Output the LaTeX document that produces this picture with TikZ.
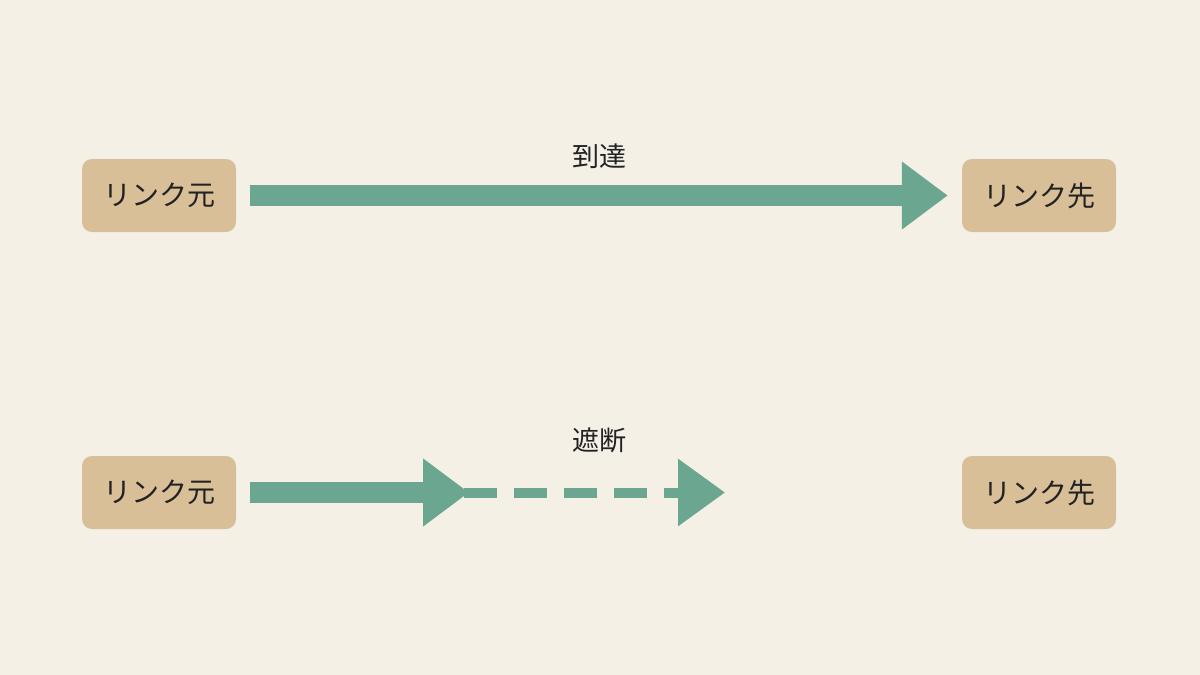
\documentclass[tikz,border=0pt]{standalone}
\usepackage{fontspec}
\setmainfont{Noto Sans CJK JP}
\usetikzlibrary{arrows.meta}
\definecolor{bg}{HTML}{F4F0E6}
\definecolor{boxfill}{HTML}{D8BF98}
\definecolor{arr}{HTML}{6BA690}
\definecolor{ink}{HTML}{222222}
\tikzset{
  linkbox/.style={fill=boxfill, rounded corners=10pt, minimum width=154pt, minimum height=73pt, inner sep=0pt, text=ink, font=\fontsize{28}{30}\selectfont},
  lbl/.style={text=ink, font=\fontsize{27}{29}\selectfont, inner sep=0pt},
  bigarrow/.style={draw=arr, line width=21pt, -{Triangle[length=46pt, width=65pt]}},
  dasharrow/.style={draw=arr, line width=10pt, dash pattern=on 33pt off 17pt, -{Triangle[length=47pt, width=65pt]}},
}
\begin{document}
\begin{tikzpicture}[x=1pt, y=-1pt]
\fill[bg] (0,0) rectangle (1200,675);
\useasboundingbox (0,0) rectangle (1200,675);
% top row
\node[linkbox] (src1) at (159,195.5) {リンク元};
\node[linkbox] (dst1) at (1039,195.5) {リンク先};
\draw[bigarrow, shorten <=14pt, shorten >=14pt] (src1) -- (dst1);
\node[lbl] (reach) at (599,156) {到達};
% bottom row
\node[linkbox] (src2) at (159,492.5) {リンク元};
\node[linkbox] (dst2) at (1039,492.5) {リンク先};
\coordinate (cut) at (469,492.5);
\coordinate (dstart) at (464,492.5);
\coordinate (dend) at (725,492.5);
\draw[dasharrow] (dstart) -- (dend);
\draw[bigarrow, shorten <=14pt] (src2) -- (cut);
\node[lbl] (block) at (599,440) {遮断};
\end{tikzpicture}
\end{document}
